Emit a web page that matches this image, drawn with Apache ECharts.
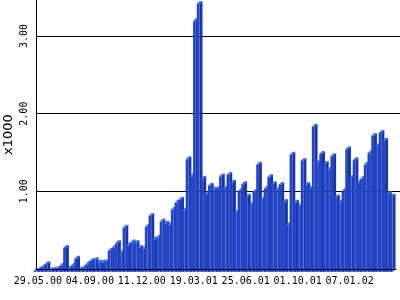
<!DOCTYPE html>
<html><head><meta charset="utf-8">
<script src="https://cdn.jsdelivr.net/npm/echarts@6/dist/echarts.min.js"></script>
<style>html,body{margin:0;padding:0;background:#fff}#c{width:400px;height:300px}</style>
</head><body><div id="c"></div>
<script>
const categories = [
'29.05.00','05.06.00','12.06.00','19.06.00','26.06.00','03.07.00','10.07.00','17.07.00','24.07.00','31.07.00',
'07.08.00','14.08.00','21.08.00','28.08.00','04.09.00','11.09.00','18.09.00','25.09.00','02.10.00','09.10.00',
'16.10.00','23.10.00','30.10.00','06.11.00','13.11.00','20.11.00','27.11.00','04.12.00','11.12.00','18.12.00',
'25.12.00','01.01.01','08.01.01','15.01.01','22.01.01','29.01.01','05.02.01','12.02.01','19.02.01','26.02.01',
'05.03.01','12.03.01','19.03.01','26.03.01','02.04.01','09.04.01','16.04.01','23.04.01','30.04.01','07.05.01',
'14.05.01','21.05.01','28.05.01','04.06.01','11.06.01','18.06.01','25.06.01','02.07.01','09.07.01','16.07.01',
'23.07.01','30.07.01','06.08.01','13.08.01','20.08.01','27.08.01','03.09.01','10.09.01','17.09.01','24.09.01',
'01.10.01','08.10.01','15.10.01','22.10.01','29.10.01','05.11.01','12.11.01','19.11.01','26.11.01','03.12.01',
'10.12.01','17.12.01','24.12.01','31.12.01','07.01.02','14.01.02','21.01.02','28.01.02','04.02.02','11.02.02',
'18.02.02','25.02.02','04.03.02','11.03.02','18.03.02','25.03.02','01.04.02'];

// values in thousands (axis unit x1000)
const values = [
0.01,0.03,0.06,0.10,0.02,0.03,0.04,0.08,0.31,0.04,
0.08,0.17,0.03,0.05,0.10,0.14,0.15,0.12,0.12,0.13,
0.27,0.31,0.37,0.24,0.57,0.34,0.38,0.37,0.31,0.29,
0.58,0.72,0.42,0.44,0.65,0.62,0.60,0.80,0.89,0.93,
0.79,1.45,1.23,3.23,3.45,1.20,0.99,1.11,1.06,1.07,
1.23,1.07,1.25,1.15,0.76,1.04,1.13,0.97,0.86,1.03,
1.38,0.93,1.07,1.22,1.13,1.05,1.12,0.90,0.60,1.51,
0.89,0.84,1.43,1.12,1.07,1.87,1.40,1.52,1.39,1.31,
1.49,0.96,0.89,1.04,1.58,1.21,1.44,1.15,1.20,1.38,
1.53,1.75,1.62,1.79,1.69,1.00,0.97];

const yTickValues = [1, 2, 3];
const yName = 'x1000';

const FRONT = '#2245cc', SIDE = '#1a369e', TOP = '#3a6af2';
const Y_MAX = 3.463;

function renderItem(params, api) {
  const i = api.value(0), v = api.value(1);
  const top = api.coord([i, v]);
  const base = api.coord([i, 0]);
  const s = api.size([1, 0])[0];
  const w = s - 1, dx = 3, dy = 3;
  const xl = top[0] - w / 2, xr = top[0] + w / 2;
  const yt = top[1], yb = base[1];
  return {type: 'group', children: [
    {type: 'polygon', shape: {points: [[xr - dx, yt + dy], [xr, yt], [xr, yb], [xr - dx, yb + dy]]}, style: {fill: SIDE}},
    {type: 'rect', shape: {x: xl - dx, y: yt + dy, width: w, height: yb - yt}, style: {fill: FRONT}},
    {type: 'polygon', shape: {points: [[xl - dx, yt + dy], [xr - dx, yt + dy], [xr, yt], [xl, yt]]}, style: {fill: TOP}}
  ]};
}

const chart = echarts.init(document.getElementById('c'), null, {renderer: 'canvas'});
chart.setOption({
  animation: false,
  backgroundColor: '#fff',
  grid: [
    {left: 36, right: 4, top: 0, bottom: 31, containLabel: false, outerBoundsMode: 'none'},
    {left: 36, right: 0, top: 0, bottom: 31, containLabel: false, outerBoundsMode: 'none'}
  ],
  xAxis: [
    {type: 'category', gridIndex: 0, data: categories, boundaryGap: true, z: 5,
     axisLine: {show: true, lineStyle: {color: '#000', width: 1}},
     axisTick: {show: false},
     splitLine: {show: false},
     axisLabel: {interval: 13, color: '#000', fontFamily: 'DejaVu Sans Mono', fontSize: 10, margin: 7}},
    {type: 'value', gridIndex: 1, show: false, min: 0, max: 1}
  ],
  yAxis: [
    {type: 'value', gridIndex: 0, min: 0, max: Y_MAX, show: false},
    {type: 'value', gridIndex: 1, min: 0, max: Y_MAX, interval: 1,
     name: yName, nameLocation: 'middle', nameRotate: 90, nameGap: 21, nameMoveOverlap: false,
     nameTextStyle: {fontFamily: 'DejaVu Sans', fontSize: 13, color: '#000'},
     axisLine: {show: true, lineStyle: {color: '#000', width: 1}},
     axisTick: {show: false},
     splitLine: {show: true, showMaxLine: false, showMinLine: false, lineStyle: {color: '#000', width: 1}},
     axisLabel: {rotate: 90, margin: 7, color: '#000', fontFamily: 'DejaVu Sans Mono', fontSize: 10,
       showMaxLabel: false,
       formatter: function (v) { return yTickValues.indexOf(v) >= 0 ? v.toFixed(2) : ''; }}}
  ],
  series: [{
    type: 'custom', xAxisIndex: 0, yAxisIndex: 0,
    renderItem: renderItem,
    encode: {x: 0, y: 1},
    data: values.map(function (v, i) { return [i, v]; }),
    clip: false
  }]
});
</script></body></html>
